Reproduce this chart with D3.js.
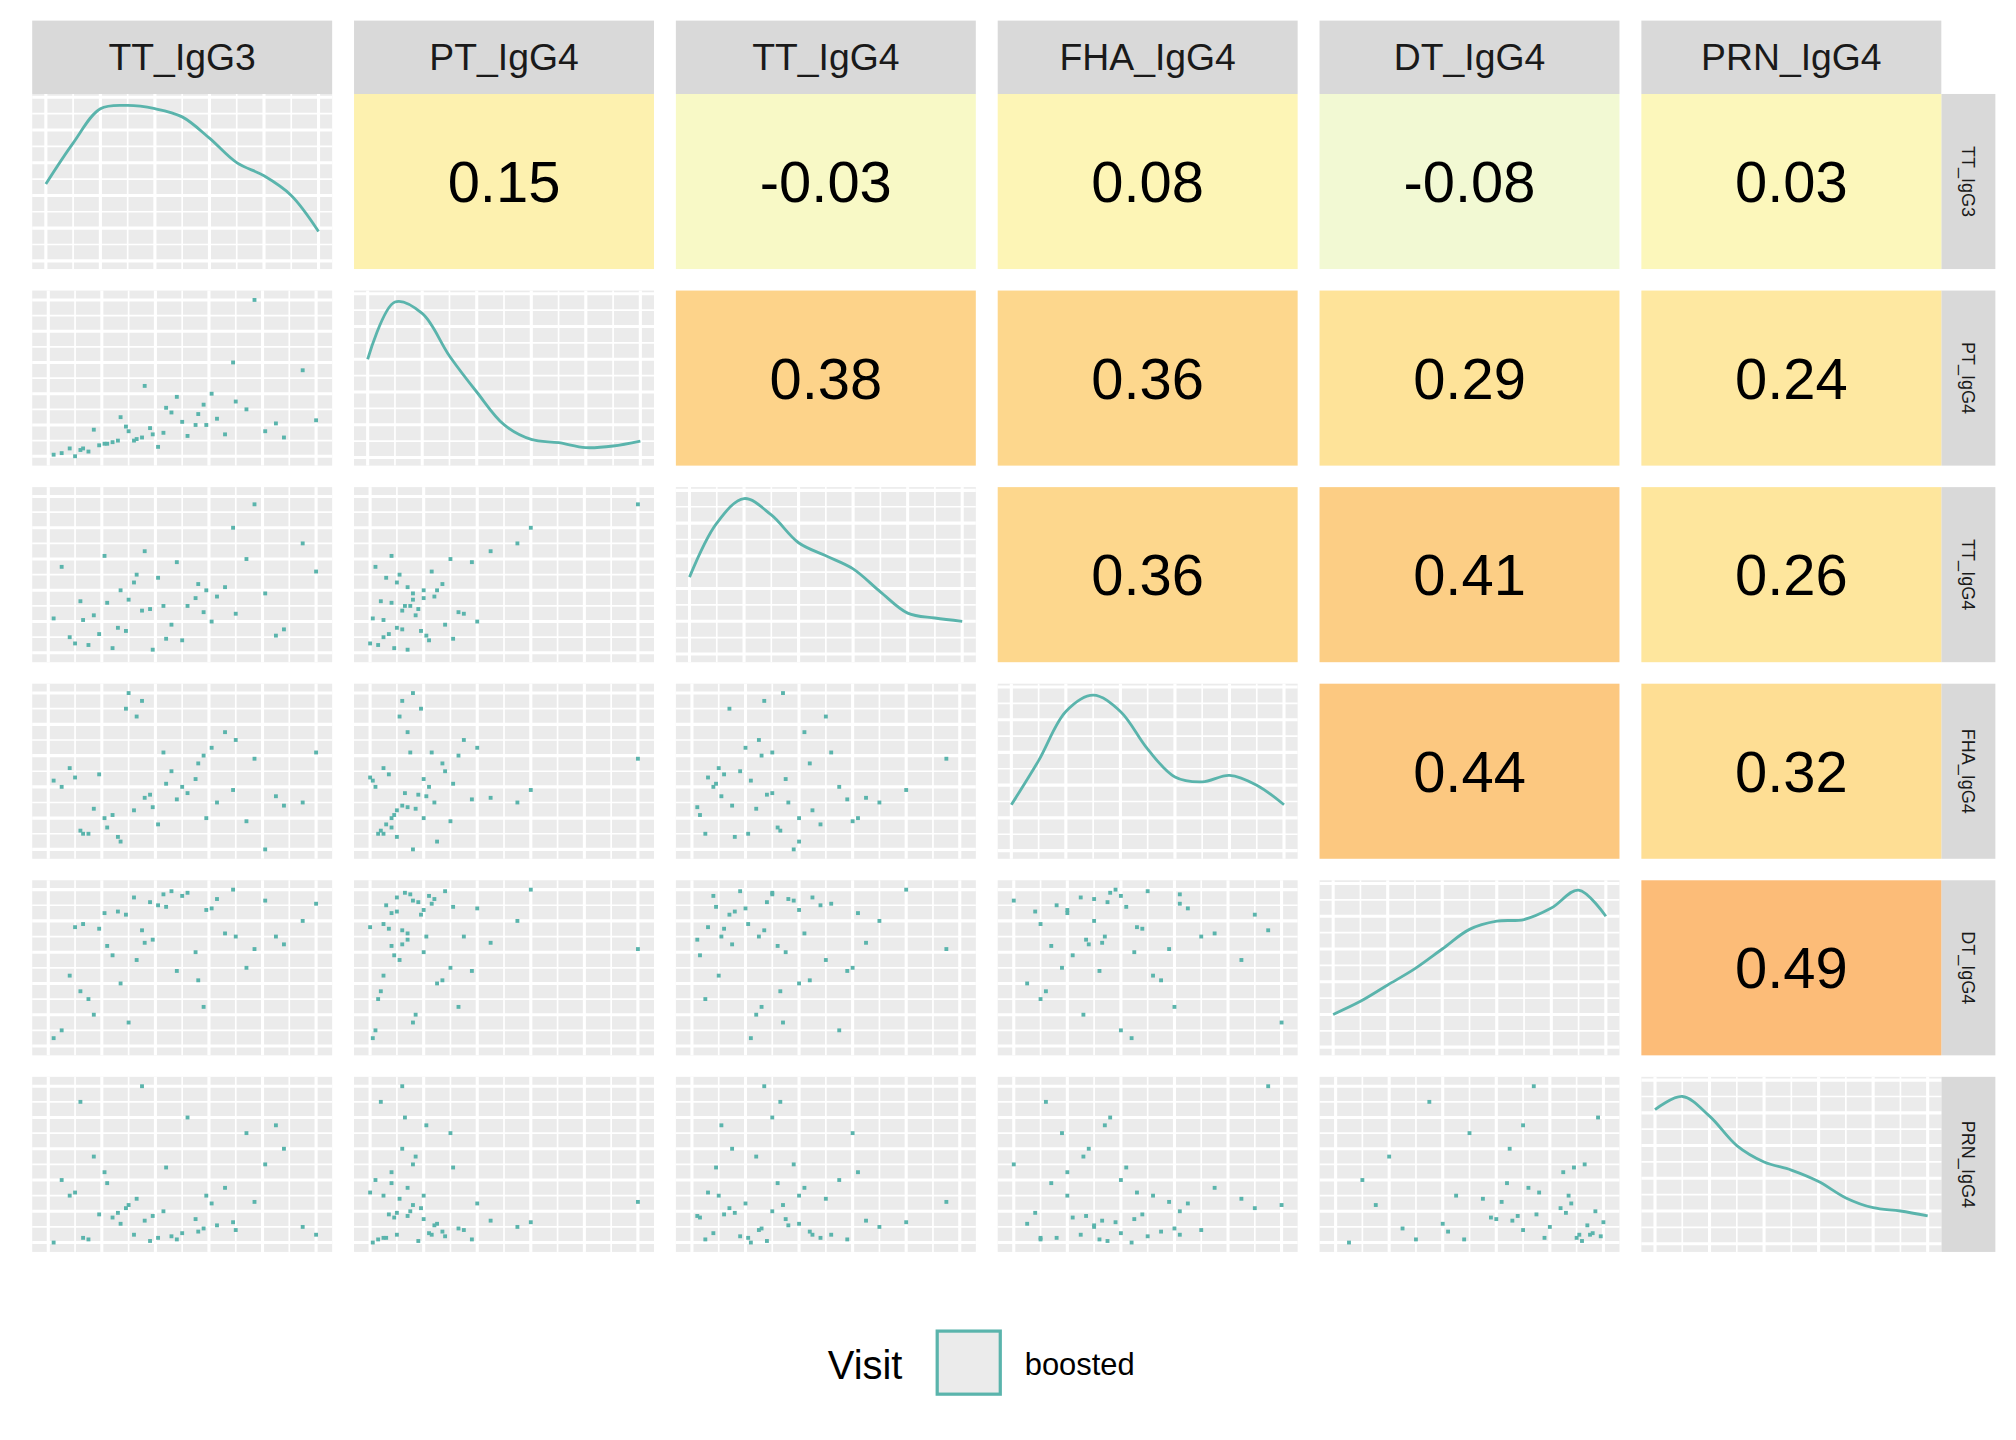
<!DOCTYPE html>
<html><head><meta charset="utf-8">
<script src="https://cdn.jsdelivr.net/npm/d3@7"></script>
<style>body{margin:0;background:#fff}svg{display:block;font-family:Arial,"Liberation Sans",sans-serif}</style>
</head><body><svg id="c" width="2016" height="1440" viewBox="0 0 1566 1118.6"></svg>
<script>
const variables = ["TT_IgG3","PT_IgG4","TT_IgG4","FHA_IgG4","DT_IgG4","PRN_IgG4"];
const corr = [
  [null,0.15,-0.03,0.08,-0.08,0.03],
  [null,null,0.38,0.36,0.29,0.24],
  [null,null,null,0.36,0.41,0.26],
  [null,null,null,null,0.44,0.32],
  [null,null,null,null,null,0.49],
  [null,null,null,null,null,null]
];
const TT_IgG3 = [0.32,0.08,0.55,0.21,0.70,0.15,0.43,0.88,0.27,0.61,0.05,0.38,0.74,0.19,0.50,0.33,0.95,0.12,0.46,0.66,0.24,0.58,0.81,0.36,0.02,0.52,0.29,0.77,0.41,0.17,0.63,0.10,0.48,0.85,0.26,0.56,0.35,0.69,0.22,1.00,0.44,0.30,0.13,0.59,0.39];
const PT_IgG4 = [0.10,0.05,0.20,0.08,0.35,0.03,0.15,0.12,0.25,0.40,0.02,0.18,0.30,0.07,0.22,0.11,0.55,0.04,0.28,0.14,0.09,0.33,0.16,0.45,0.01,0.13,0.19,1.00,0.06,0.17,0.24,0.00,0.38,0.21,0.10,0.27,0.12,0.60,0.08,0.23,0.31,0.16,0.05,0.20,0.14];
const TT_IgG4 = [0.45,0.10,0.35,0.62,0.25,0.05,0.30,0.15,0.40,0.20,0.55,0.28,0.60,0.12,0.08,0.50,0.70,0.33,0.18,0.42,0.03,0.26,0.38,0.65,0.22,0.30,0.14,0.95,0.48,0.24,0.36,0.06,0.58,0.11,0.16,0.44,0.27,0.80,0.32,0.52,0.09,0.34,0.21,0.40,0.02];
const FHA_IgG4 = [0.25,0.52,0.45,0.20,0.70,0.10,0.62,0.28,0.05,0.65,0.40,0.35,0.18,0.48,0.40,0.85,0.30,0.12,0.50,0.75,0.22,0.60,0.00,0.33,0.44,0.36,0.90,0.58,0.16,0.26,0.30,0.46,0.32,0.34,0.08,0.55,0.95,0.38,0.14,0.62,0.42,1.00,0.10,0.20,0.27];
const DT_IgG4 = [0.95,0.45,0.60,0.85,0.70,0.30,0.97,0.65,0.40,0.88,0.10,0.92,0.50,0.75,0.96,0.55,0.80,0.35,0.99,0.72,0.58,0.25,0.93,0.66,0.05,0.98,0.84,0.62,0.90,0.20,0.94,0.76,0.48,0.70,0.86,0.42,0.74,1.00,0.64,0.91,0.89,0.15,0.78,0.87,0.68];
const PRN_IgG4 = [0.05,0.30,0.15,0.45,0.08,0.02,0.20,0.60,0.12,0.25,0.40,0.01,0.70,0.18,0.06,0.28,0.10,0.90,0.04,0.35,0.16,0.09,0.50,0.14,0.00,0.80,0.22,0.26,0.03,0.55,0.11,0.32,0.02,0.75,0.19,0.07,1.00,0.13,0.38,0.05,0.48,0.24,0.03,0.30,0.17];
const values = [TT_IgG3,PT_IgG4,TT_IgG4,FHA_IgG4,DT_IgG4,PRN_IgG4];
const density = [
  [0.47,0.72,0.93,0.95,0.93,0.88,0.75,0.60,0.52,0.40,0.18],
  [0.60,0.95,0.88,0.62,0.40,0.20,0.11,0.09,0.06,0.07,0.10],
  [0.47,0.80,0.95,0.85,0.68,0.60,0.52,0.38,0.25,0.22,0.20],
  [0.28,0.55,0.85,0.95,0.85,0.62,0.45,0.42,0.46,0.40,0.28],
  [0.20,0.28,0.38,0.48,0.60,0.72,0.77,0.78,0.85,0.96,0.80],
  [0.82,0.90,0.78,0.60,0.50,0.45,0.38,0.28,0.22,0.20,0.17]
];
const legendTitle = "Visit", legendLabel = "boosted";

const svg = d3.select("#c");
const teal = "#5AB4AC";
const x0 = 25, pw = 233, step = 250, y0 = 73, ph = 136, vstep = 152.7, stripH = 57;
const colScale = d3.scaleLinear().domain([-0.08,0,0.15,0.3,0.44,0.49])
  .range(["#F2F9D3","#FCF9BE","#FDF1AF","#FEE297","#FCC880","#FCBC78"]);
const n = variables.length;

function gridPanel(g, xs, ys){
  g.append("rect").attr("width",pw).attr("height",ph).attr("fill","#EBEBEB");
  const xt = xs.ticks(5), yt = ys.ticks(5);
  const xm = xt.slice(1).map((t,i)=>(t+xt[i])/2), ym = yt.slice(1).map((t,i)=>(t+yt[i])/2);
  const ext = xs.domain(), eyt = ys.domain();
  const xMinor = xm.concat([xt[0]-(xt[1]-xt[0])/2, xt[xt.length-1]+(xt[1]-xt[0])/2]).filter(v=>v>=ext[0]&&v<=ext[1]);
  const yMinor = ym.concat([yt[0]-(yt[1]-yt[0])/2, yt[yt.length-1]+(yt[1]-yt[0])/2]).filter(v=>v>=eyt[0]&&v<=eyt[1]);
  g.selectAll(".xm").data(xMinor).join("line").attr("x1",d=>xs(d)).attr("x2",d=>xs(d)).attr("y1",0).attr("y2",ph).attr("stroke","#fff").attr("stroke-width",1.3);
  g.selectAll(".ym").data(yMinor).join("line").attr("y1",d=>ys(d)).attr("y2",d=>ys(d)).attr("x1",0).attr("x2",pw).attr("stroke","#fff").attr("stroke-width",1.3);
  g.selectAll(".xM").data(xt).join("line").attr("x1",d=>xs(d)).attr("x2",d=>xs(d)).attr("y1",0).attr("y2",ph).attr("stroke","#fff").attr("stroke-width",2.4);
  g.selectAll(".yM").data(yt).join("line").attr("y1",d=>ys(d)).attr("y2",d=>ys(d)).attr("x1",0).attr("x2",pw).attr("stroke","#fff").attr("stroke-width",2.4);
}

for(let i=0;i<n;i++){
  const sg = svg.append("g").attr("transform",`translate(${x0+i*step},16)`);
  sg.append("rect").attr("width",pw).attr("height",stripH).attr("fill","#D9D9D9");
  sg.append("text").attr("x",pw/2).attr("y",stripH/2+10).attr("text-anchor","middle").attr("font-size",29).attr("fill","#1A1A1A").text(variables[i]);
  const rg = svg.append("g").attr("transform",`translate(${x0+5*step+pw},${y0+i*vstep})`);
  rg.append("rect").attr("width",42).attr("height",ph).attr("fill","#D9D9D9");
  rg.append("text").attr("transform",`translate(16,${ph/2}) rotate(90)`).attr("text-anchor","middle").attr("font-size",14).attr("fill","#1A1A1A").text(variables[i]);
}

for(let r=0;r<n;r++){
  for(let c=0;c<n;c++){
    const g = svg.append("g").attr("transform",`translate(${x0+c*step},${y0+r*vstep})`);
    if(c>r){
      const v = corr[r][c];
      g.append("rect").attr("width",pw).attr("height",ph).attr("fill",colScale(v));
      g.append("text").attr("x",pw/2).attr("y",ph/2+16).attr("text-anchor","middle").attr("font-size",45).attr("fill","#000").text(d3.format(".2f")(v).replace("\u2212","-"));
    } else if(c===r){
      const xs = d3.scaleLinear().domain([-0.05,1.05]).range([0,pw]);
      const ys = d3.scaleLinear().domain([-0.05,1.02]).range([ph,0]);
      gridPanel(g,xs,ys);
      const d = density[r];
      const line = d3.line().x((v,k)=>xs(k/(d.length-1))).y(v=>ys(v)).curve(d3.curveCatmullRom.alpha(0.5));
      g.append("path").attr("d",line(d)).attr("fill","none").attr("stroke",teal).attr("stroke-width",2.2);
    } else {
      const xs = d3.scaleLinear().domain([-0.06,1.06]).range([0,pw]);
      const ys = d3.scaleLinear().domain([-0.06,1.06]).range([ph,0]);
      gridPanel(g,xs,ys);
      const xv = values[c], yv = values[r];
      g.selectAll(".p").data(xv).join("rect")
        .attr("x",(v)=>xs(v)-1.5).attr("y",(v,k)=>ys(yv[k])-1.5).attr("width",3).attr("height",3).attr("fill",teal);
    }
  }
}

const lg = svg.append("g");
lg.append("text").attr("x",643).attr("y",1071).attr("font-size",31).attr("fill","#000").text(legendTitle);
lg.append("rect").attr("x",728).attr("y",1034).attr("width",49).attr("height",49).attr("fill","#EBEBEB").attr("stroke",teal).attr("stroke-width",2.5);
lg.append("text").attr("x",796).attr("y",1068).attr("font-size",24).attr("fill","#000").text(legendLabel);
</script></body></html>
